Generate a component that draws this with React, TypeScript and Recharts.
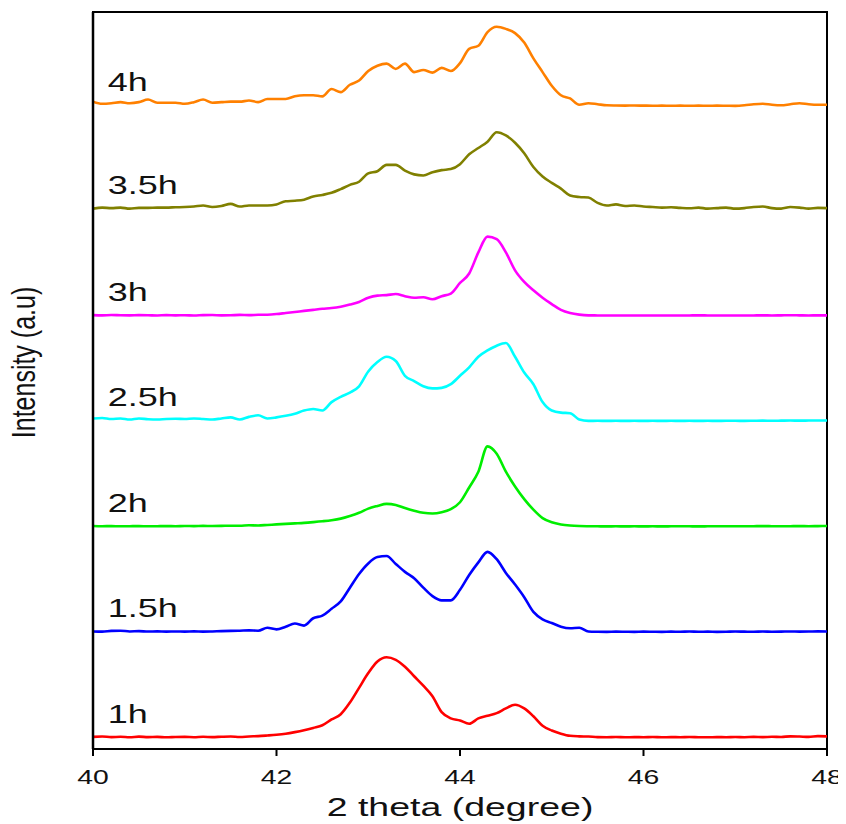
import React from 'react';
import { LineChart, Line, XAxis, YAxis, ReferenceArea, ReferenceDot } from 'recharts';

// 2-theta grid (degree)
const THETA = [
  40.0, 40.1, 40.2, 40.3, 40.4, 40.5, 40.6, 40.7, 40.8, 40.9,
  41.0, 41.1, 41.2, 41.3, 41.4, 41.5, 41.6, 41.7, 41.8, 41.9,
  42.0, 42.1, 42.2, 42.3, 42.4, 42.5, 42.6, 42.7, 42.8, 42.9,
  43.0, 43.1, 43.2, 43.3, 43.4, 43.5, 43.6, 43.7, 43.8, 43.9,
  44.0, 44.1, 44.2, 44.3, 44.4, 44.5, 44.6, 44.7, 44.8, 44.9,
  45.0, 45.1, 45.2, 45.3, 45.4, 45.5, 45.6, 45.7, 45.8, 45.9,
  46.0, 46.1, 46.2, 46.3, 46.4, 46.5, 46.6, 46.7, 46.8, 46.9,
  47.0, 47.1, 47.2, 47.3, 47.4, 47.5, 47.6, 47.7, 47.8, 47.9,
  48.0,
];

const X_TICKS = [40, 42, 44, 46, 48];

// Intensities (a.u.) per milling time
const I_1H = [
  0.5, 0.8, 0.3, 0.6, 0.2, 0.7, 0.3, 0.5, 0.1, 0.4,
  0.5, 0.2, 0.6, 0.3, 0.6, 0.8, 0.4, 0.9, 1.2, 1.8,
  2.5, 3.5, 5, 6.8, 9, 11.5, 17, 22, 33, 47,
  61, 72, 76, 73.5, 67, 58, 49, 39, 24, 18,
  16, 13, 18, 20.5, 23, 27.5, 31, 27.5, 20, 11,
  6.5, 3.5, 1.5, 1, 0.8, 0.3, 0.2, 0.4, 0.1, 0.3,
  0.2, 0.4, 0.1, 0.3, 0.2, 0.4, 0.2, 0.1, 0.3, 0.2,
  0.4, 0.2, 0.5, 0.3, 0.6, 0.4, 1.0, 0.8, 0.5, 1.2,
  1.0,
];
const I_15H = [
  0.5, 0.3, 1.0, 1.2, 0.5, 0.8, 0.4, 0.6, 0.3, 0.5,
  0.3, 0.6, 0.3, 0.5, 0.8, 1.0, 1.2, 1.5, 1.2, 4,
  2.5, 5, 8, 6, 13, 15.5, 22, 29, 42, 55,
  65, 71, 72, 64.5, 57, 51, 42, 34, 30, 30,
  40, 54, 66, 76, 69, 56, 45, 33, 19, 12,
  8.5, 5, 3.5, 4, 0.5, 0.2, 0.1, 0.3, 0.2, 0.1,
  0.3, 0.2, 0.1, 0.3, 0.2, 0.4, 0.2, 0.3, 0.1, 0.2,
  0.4, 0.3, 0.2, 0.4, 0.2, 0.3, 0.5, 0.3, 0.4, 0.6,
  0.5,
];
const I_2H = [
  0.5, 0.3, 0.4, 0.2, 0.3, 0.4, 0.2, 0.3, 0.4, 0.3,
  0.5, 0.4, 0.6, 0.5, 0.6, 0.8, 0.7, 1.2, 1.0, 1.5,
  2.0, 2.5, 3.0, 3.5, 4.2, 5.0, 6.0, 7.5, 10, 13,
  17, 19.5, 21.5, 20.5, 17.5, 15, 13, 12.3, 13.5, 16.5,
  23, 37, 52, 76, 69, 52, 38, 26, 16, 8,
  4, 2, 1, 0.5, 0.3, 0.2, 0.1, 0.2, 0.1, 0.2,
  0.1, 0.2, 0.1, 0.2, 0.3, 0.2, 0.1, 0.2, 0.3, 0.2,
  0.3, 0.2, 0.3, 0.4, 0.3, 0.2, 0.3, 0.4, 0.3, 0.4,
  0.5,
];
const I_25H = [
  2.5, 3.0, 2.0, 2.5, 1.5, 2.5, 1.8, 1.5, 2.0, 2.2,
  2.0, 2.5, 2.0, 1.5, 2.5, 3.5, 1.5, 4.0, 5.5, 2.5,
  3.5, 5, 7, 10, 11.5, 10, 18, 23, 27, 33,
  47, 56, 61, 57, 43, 38, 33, 31, 31.5, 35,
  43, 51, 61, 67, 71.5, 74, 61, 46, 35, 18,
  10, 8, 7.5, 1.5, 0.2, 0.3, 0.2, 0.3, 0.2, 0.3,
  0.2, 0.3, 0.2, 0.3, 0.2, 0.3, 0.2, 0.3, 0.2, 0.3,
  0.3, 0.2, 0.3, 0.4, 0.3, 0.4, 0.5, 0.4, 0.5, 0.6,
  0.6,
];
const I_3H = [
  0.5, 0.3, 0.6, 0.4, 0.3, 0.5, 0.4, 0.2, 0.5, 0.3,
  0.4, 0.2, 0.5, 0.6, 0.3, 0.4, 0.7, 0.5, 0.8, 0.9,
  1.5, 2.5, 3.5, 4.5, 5.5, 6.5, 7.2, 8.5, 10.5, 13,
  17, 19, 19.5, 20.5, 18.5, 17, 17.5, 15.5, 18.5, 21,
  31, 40, 60, 75, 72.5, 60, 43, 32, 24, 17,
  11, 5.5, 2.5, 1, 0.3, 0.2, 0.1, 0.2, 0.1, 0.2,
  0.1, 0.2, 0.1, 0.2, 0.1, 0.2, 0.3, 0.2, 0.1, 0.2,
  0.2, 0.1, 0.2, 0.3, 0.2, 0.3, 0.4, 0.3, 0.2, 0.3,
  0.3,
];
const I_35H = [
  0.5, 1.5, 1.0, 1.5, 0.5, 1.2, 1.2, 1.5, 1.5, 1.8,
  2.0, 2.5, 3.5, 2.0, 3.0, 5.0, 2.5, 3.5, 3.5, 3.5,
  4.5, 7.5, 8.0, 9.0, 12, 13.5, 15.5, 19, 23, 26,
  34, 36, 42, 42, 36.5, 33, 32, 35, 37, 38,
  42.7, 52, 58, 64, 73, 70, 63, 53, 40, 31,
  25, 19.5, 13, 11.5, 11, 6, 3.5, 4.5, 3, 3.5,
  2.5, 2, 1.5, 1.8, 1.2, 0.8, 1.5, 0.5, 1.0, 1.5,
  0.5, 1.0, 2.0, 2.5, 1.0, 0.5, 2.0, 1.5, 0.5, 1.2,
  1.0,
];
const I_4H = [
  4, 2, 2.5, 3.5, 2.5, 3.5, 6, 3, 3, 3,
  2, 3.5, 6, 3, 3.5, 4, 4, 5, 3.5, 6.5,
  6.5, 6.5, 9, 10, 10, 9, 16, 13, 20, 24,
  33, 38, 40, 35, 40, 32, 34, 31.5, 36, 33,
  40.5, 54, 57, 70, 75, 73, 69, 60, 45, 32,
  19, 10, 7, 1, 2.5, 1.5, 0.5, 0.3, 0.2, 0.3,
  0.2, 0.1, 0.2, 0.1, 0.2, 0.1, 0.2, 0.1, 0.2, 0.1,
  0, 0.5, 1.5, 2, 1, 0.5, 1.5, 2.5, 1.5, 1,
  1,
];

const SERIES_LABELS = ['1h', '1.5h', '2h', '2.5h', '3h', '3.5h', '4h'];
const SERIES_VALUES = [I_1H, I_15H, I_2H, I_25H, I_3H, I_35H, I_4H];
const SERIES_OFFSETS = [0, 100, 200, 300, 400, 501, 599];
const SERIES_COLORS = ['#ff0000', '#0000ff', '#00ee00', '#00ffff', '#ff00ff', '#808000', '#ff8000'];

const Y_DOMAIN: [number, number] = [-11, 688];
const LABEL_THETA = 40.16;
const LABEL_RAISE = 14;

const data = THETA.map((t, i) => {
  const row: Record<string, number> = { theta: t };
  SERIES_VALUES.forEach((vals, s) => {
    row['s' + s] = vals[i] + SERIES_OFFSETS[s];
  });
  return row;
});

const FONT = 'Liberation Sans, Arial, Helvetica, sans-serif';

const XTick = (props: any) => {
  const { x, y, payload } = props;
  return (
    <text
      transform={`translate(${x},${y + 26}) scale(1.35,1)`}
      textAnchor="middle"
      fontFamily={FONT}
      fontSize={21}
      fill="#111"
    >
      {payload.value}
    </text>
  );
};

const XLabel = (props: any) => {
  const vb = props.viewBox;
  const cx = vb.x + vb.width / 2;
  return (
    <text
      transform={`translate(${cx},${vb.y + 67}) scale(1.5,1)`}
      textAnchor="middle"
      fontFamily={FONT}
      fontSize={25}
      fill="#111"
    >
      2 theta (degree)
    </text>
  );
};

const YLabel = (props: any) => {
  const vb = props.viewBox;
  const cy = vb.y + vb.height / 2 - 18;
  return (
    <text
      transform={`translate(35,${cy}) scale(1.3,1) rotate(-90)`}
      textAnchor="middle"
      fontFamily={FONT}
      fontSize={25}
      fill="#111"
    >
      Intensity (a.u)
    </text>
  );
};

export default function App() {
  return (
    <div style={{ marginLeft: -8, marginTop: -8, width: 846, height: 824 }}>
      <LineChart
        width={846}
        height={824}
        data={data}
        margin={{ top: 12, right: 19, bottom: 15, left: 8 }}
      >
        <ReferenceArea
          x1={40}
          x2={48}
          y1={Y_DOMAIN[0]}
          y2={Y_DOMAIN[1]}
          fill="none"
          stroke="#000"
          strokeWidth={2}
          isAnimationActive={false}
        />
        <XAxis
          type="number"
          dataKey="theta"
          domain={[40, 48]}
          ticks={X_TICKS}
          allowDataOverflow
          height={60}
          tickSize={7}
          axisLine={{ stroke: '#000', strokeWidth: 2 }}
          tickLine={{ stroke: '#000', strokeWidth: 2 }}
          tick={<XTick />}
          label={{ content: <XLabel /> } as any}
        />
        <YAxis
          type="number"
          domain={Y_DOMAIN}
          allowDataOverflow
          width={85}
          tick={false}
          tickLine={false}
          axisLine={{ stroke: '#000', strokeWidth: 2.5 }}
          label={{ content: <YLabel /> } as any}
        />
        {SERIES_VALUES.map((_, s) => (
          <Line
            key={s}
            type="monotone"
            dataKey={'s' + s}
            stroke={SERIES_COLORS[s]}
            strokeWidth={2.6}
            dot={false}
            activeDot={false}
            isAnimationActive={false}
          />
        ))}
        {SERIES_LABELS.map((lab, s) => (
          <ReferenceDot
            key={lab}
            x={LABEL_THETA}
            y={SERIES_OFFSETS[s] + LABEL_RAISE}
            r={0}
            shape={(p: any) => (
              <text
                transform={`translate(${p.cx},${p.cy}) scale(1.44,1)`}
                textAnchor="start"
                fontFamily={FONT}
                fontSize={25}
                fill="#111"
              >
                {lab}
              </text>
            )}
          />
        ))}
      </LineChart>
    </div>
  );
}
